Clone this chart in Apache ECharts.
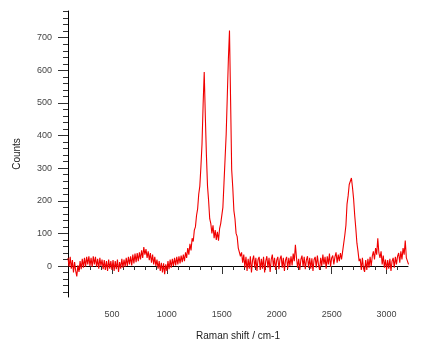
<!DOCTYPE html>
<html>
<head>
<meta charset="utf-8">
<script src="https://cdn.jsdelivr.net/npm/echarts@6/dist/echarts.min.js"></script>
<style>
html,body{margin:0;padding:0;background:#fff;}
#chart{width:428px;height:350px;}
</style>
</head>
<body>
<div id="chart"></div>
<script>
// Raman shift sampling grid (cm-1)
const shiftStart = 100;
const shiftStep = 10;
// Counts, one per 10 cm-1 from 100 to 3200
const counts = [
  // 100-300
  25,-2,28,-8,18,-20,12,-15,-32,2,-18,15,-10,22,-5,25,-2,28,5,30,0,
  // 310-500
  25,-3,30,5,28,-2,22,-8,25,0,20,-10,18,-12,15,-15,20,-8,15,-12,
  // 510-700
  18,-15,15,-10,20,-18,12,-8,22,-5,20,-2,25,0,28,5,30,2,35,8,
  // 710-800
  38,12,40,15,42,20,48,25,58,35,
  // 810-1000
  52,25,45,18,40,10,35,5,28,0,20,-8,15,-15,10,-20,8,-25,5,-15,
  // 1010-1150
  15,-10,20,-5,22,0,25,2,28,5,30,8,32,12,35,
  // 1160-1340 (D band)
  15,42,25,55,35,68,48,85,75,110,120,155,175,220,245,305,375,495,595,
  // 1350-1490
  460,340,245,200,145,130,100,125,85,110,80,105,78,115,130,
  // 1500-1700 (G band)
  135,180,255,330,405,520,635,722,510,295,240,170,145,100,90,55,60,30,42,10,35,
  // 1710-2000
  -5,28,-15,22,-8,30,-20,18,32,-5,25,-15,20,28,-12,22,-8,28,-20,15,30,-5,25,-18,20,35,-2,25,-12,18,
  // 2010-2300
  28,-10,22,32,-5,25,-15,18,28,-8,25,0,30,2,38,15,65,25,-5,22,-12,20,32,-2,28,-10,18,30,-5,25,
  // 2310-2580
  -8,24,-15,20,28,-5,32,5,-12,25,0,35,5,28,-8,30,5,38,-2,25,32,5,28,42,10,35,15,40,
  // 2590-2750 (2D band)
  20,45,50,95,125,190,215,250,255,270,240,205,155,115,70,45,15,
  // 2760-2870
  22,-12,25,-8,-18,18,-12,22,-5,28,0,30,
  // 2880-2950
  45,20,55,35,85,40,25,45,
  // 2960-3100
  5,32,-5,20,-12,18,-8,22,-15,15,25,-5,28,5,30,
  // 3110-3200
  40,10,45,20,55,35,78,25,30,5
];
const xMajorTicks = [500,1000,1500,2000,2500,3000];
const xMinorTicks = [200,300,400,600,700,800,900,1100,1200,1300,1400,1600,1700,1800,1900,2100,2200,2300,2400,2600,2700,2800,2900,3100];
const yMajorTicks = [0,100,200,300,400,500,600,700];
const yMinorTicks = [-80,-60,-40,-20,20,40,60,80,120,140,160,180,220,240,260,280,320,340,360,380,420,440,460,480,520,540,560,580,620,640,660,680,720,740,760,780];
const xTitle = 'Raman shift / cm-1';
const yTitle = 'Counts';

const points = counts.map((c, i) => [shiftStart + i * shiftStep, c]);

const X_MIN = 100, X_MAX = 3195, Y_MIN = -95, Y_MAX = 782;
const FONT = 'Liberation Sans, Arial, sans-serif';

const chart = echarts.init(document.getElementById('chart'), null, {renderer: 'canvas'});
chart.setOption({
  animation: false,
  backgroundColor: '#fff',
  grid: {left: 68, right: 20, top: 11, bottom: 53, containLabel: false},
  xAxis: [
    {
      type: 'value', min: X_MIN, max: X_MAX,
      name: xTitle, nameLocation: 'middle', nameGap: 34,
      nameTextStyle: {fontFamily: FONT, fontSize: 10, color: '#222'},
      axisLine: {show: true, lineStyle: {color: '#000', width: 1}},
      axisTick: {show: true, length: 8, customValues: xMajorTicks, lineStyle: {color: '#333'}},
      axisLabel: {show: true, customValues: xMajorTicks, margin: 13, fontFamily: FONT, fontSize: 9, color: '#444',
        formatter: v => String(v)},
      splitLine: {show: false}
    },
    {
      type: 'value', min: X_MIN, max: X_MAX, position: 'bottom',
      axisLine: {show: false},
      axisTick: {show: true, length: 4, customValues: xMinorTicks, lineStyle: {color: '#333'}},
      axisLabel: {show: false},
      splitLine: {show: false}
    }
  ],
  yAxis: [
    {
      type: 'value', min: Y_MIN, max: Y_MAX,
      name: yTitle, nameLocation: 'middle', nameGap: 46, nameRotate: 90,
      nameTextStyle: {fontFamily: FONT, fontSize: 10, color: '#222'},
      axisLine: {show: true, lineStyle: {color: '#000', width: 1}},
      axisTick: {show: true, length: 10, customValues: yMajorTicks, lineStyle: {color: '#333'}},
      axisLabel: {show: true, customValues: yMajorTicks, margin: 16, fontFamily: FONT, fontSize: 9, color: '#444',
        formatter: v => String(v)},
      splitLine: {show: false}
    },
    {
      type: 'value', min: Y_MIN, max: Y_MAX, position: 'left',
      axisLine: {show: false},
      axisTick: {show: true, length: 5, customValues: yMinorTicks, lineStyle: {color: '#333'}},
      axisLabel: {show: false},
      splitLine: {show: false}
    }
  ],
  series: [{
    type: 'line',
    data: points,
    xAxisIndex: 0, yAxisIndex: 0,
    showSymbol: false, symbol: 'none',
    sampling: null,
    lineStyle: {color: '#f00000', width: 1.1},
    clip: true
  }]
});
</script>
</body>
</html>
